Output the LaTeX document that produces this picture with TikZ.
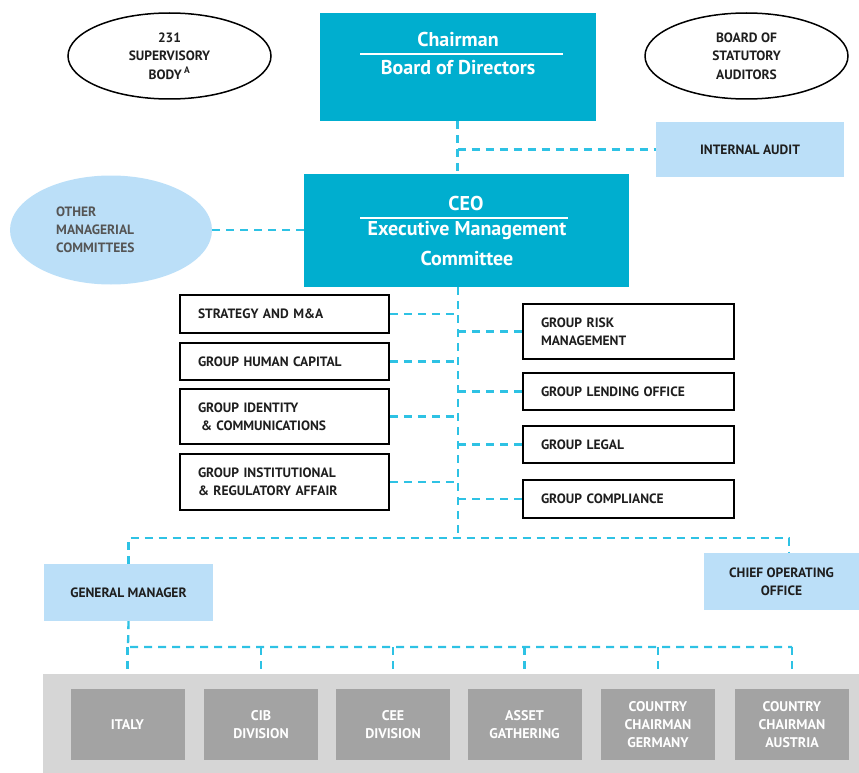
\documentclass[tikz,border=0pt]{standalone}
\usepackage{fontspec}
\setmainfont{PT Sans}
\usetikzlibrary{shapes.geometric}
\definecolor{ucyan}{HTML}{00AECF}
\definecolor{udash}{HTML}{2EC2E4}
\definecolor{ulight}{HTML}{BBDFF8}
\definecolor{uband}{HTML}{D6D6D6}
\definecolor{udiv}{HTML}{A3A3A3}
\definecolor{uink}{HTML}{1E1E1E}
\definecolor{ugrey}{HTML}{555555}

\begin{document}
\begin{tikzpicture}[x=1pt,y=-1pt,
	link/.style={udash,line width=2.3pt,dash pattern=on 8pt off 6pt},
	topbox/.style={fill=ucyan,inner sep=0pt},
	toptext/.style={text=white,inner sep=0pt,font=\bfseries\fontsize{20}{24}\selectfont},
	rule/.style={white,line width=1.3pt},
	oval/.style={ellipse,draw=black,line width=1.5pt,inner sep=0pt,align=center,
		text=uink,font=\bfseries\fontsize{13.5}{18.5}\selectfont},
	lightbox/.style={fill=ulight,inner sep=0pt,align=center,text=uink,
		font=\bfseries\fontsize{13.5}{18}\selectfont},
	unitbox/.style={draw=black,line width=1.5pt,fill=white,inner xsep=18pt,inner ysep=0pt,
		align=left,text=uink,font=\bfseries\fontsize{13.5}{18}\selectfont},
	divbox/.style={fill=udiv,minimum width=114,minimum height=71,inner sep=0pt,align=center,
		text=white,font=\bfseries\fontsize{14}{18}\selectfont}
	]
	\useasboundingbox (0,0) rectangle (859,773);
	
	\node[topbox,minimum width=276,minimum height=108] (chair) at (457.5,67) {};
	\node[toptext] (chairA) at (458,40) {Chairman};
	\draw[rule] (360,54) -- (563,54);
	\node[toptext] (chairB) at (458,68) {Board of Directors};
	
	\node[oval,minimum width=203,minimum height=86] (sup) at (169.5,56) {231\\SUPERVISORY\\BODY\,\textsuperscript{A}};
	\node[oval,minimum width=203,minimum height=86] (bsa) at (746.5,56) {BOARD OF\\STATUTORY\\AUDITORS};
	\node[lightbox,minimum width=188,minimum height=55] (audit) at (750,149.5) {INTERNAL AUDIT};
	
	\node[topbox,minimum width=325,minimum height=113] (ceo) at (466.5,230.5) {};
	\node[toptext] (ceoA) at (466,203) {CEO};
	\draw[rule] (360,218) -- (568,218);
	\node[toptext] (ceoB) at (467,231) {Executive Management};
	\node[toptext] (ceoC) at (467,258) {Committee};
	
	\node[ellipse,fill=ulight,minimum width=202,minimum height=109,inner sep=0pt] (omc) at (111,230) {};
	\node[anchor=west,align=left,inner sep=0pt,text=ugrey,font=\bfseries\fontsize{13.5}{18}\selectfont] (omctext) at (56,230) {OTHER\\MANAGERIAL\\COMMITTEES};
	
	\draw[link] (chair.south) -- (chair.south |- ceo.north);
	\draw[link] (audit.west -| chair.south) -- (audit.west);
	\draw[link] (omc.east) -- (omc.east -| ceo.west);
	
	\coordinate (trunk) at (458,287);
	\coordinate (fork) at (458,538);
	\coordinate (cooend) at (789,538);
	\coordinate (rail) at (128,647);
	\draw[link] (trunk) -- (fork);
	
	\foreach \name/\y/\h/\txt in {strat/314/38/{STRATEGY AND M\&A}, hcap/361.5/37/{GROUP HUMAN CAPITAL},
		ident/416.5/55/{GROUP IDENTITY\\\hspace{3pt}\& COMMUNICATIONS}, instit/482/56/{GROUP INSTITUTIONAL\\\& REGULATORY AFFAIR}}{
		\node[unitbox,text width=173,minimum height=\h] (\name) at (284.5,\y) {\txt};
		\draw[link] (\name.east) -- (\name.east -| trunk);
	}
	
	\foreach \name/\y/\h/\txt in {risk/331.5/55/{GROUP RISK\\MANAGEMENT}, lend/391.5/37/{GROUP LENDING OFFICE},
		legal/444.5/37/{GROUP LEGAL}, compl/499/38/{GROUP COMPLIANCE}}{
		\node[unitbox,text width=175,minimum height=\h] (\name) at (628.5,\y) {\txt};
		\draw[link] (\name.west -| trunk) -- (\name.west);
	}
	
	\node[lightbox,minimum width=169,minimum height=57] (gm) at (128.5,592.5) {GENERAL MANAGER};
	\node[lightbox,minimum width=155,minimum height=57] (coo) at (781.5,581.5) {CHIEF OPERATING\\OFFICE};
	\draw[link] (gm.north) -- (gm.north |- fork) -- (cooend) -- (cooend |- coo.north);
	
	\node[fill=uband,minimum width=816,minimum height=99,inner sep=0pt] (band) at (451,723.5) {};
	\foreach \name/\x/\txt in {italy/127.5/ITALY, cib/261/{CIB\\DIVISION}, cee/393/{CEE\\DIVISION},
		asset/524.5/{ASSET\\GATHERING}, ger/658/{COUNTRY\\CHAIRMAN\\GERMANY}, aut/792/{COUNTRY\\CHAIRMAN\\AUSTRIA}}{
		\node[divbox] (\name) at (\x,724.5) {\txt};
		\draw[link] (\name.north |- rail) -- (\name.north |- band.north);
	}
	\draw[link] (gm.south) -- (rail) -- (aut.north |- rail);
\end{tikzpicture}
\end{document}
